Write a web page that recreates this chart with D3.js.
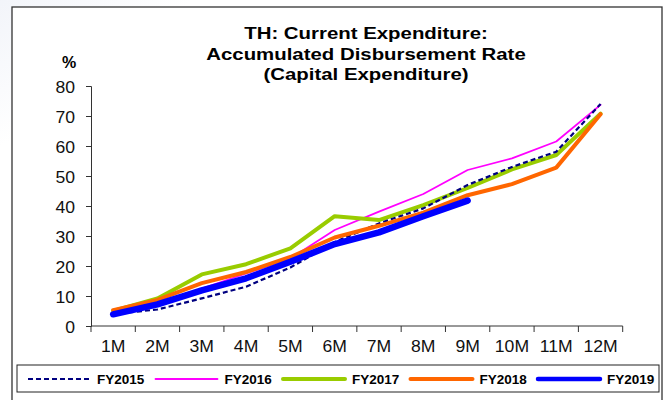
<!DOCTYPE html>
<html>
<head>
<meta charset="utf-8">
<script src="https://cdn.jsdelivr.net/npm/d3@7"></script>
<style>
  html, body { margin: 0; padding: 0; background: #fff; }
  svg { display: block; font-family: "Liberation Sans", Arial, sans-serif; }
</style>
</head>
<body>
<svg id="chart" width="667" height="400"></svg>
<script>
// Accumulated disbursement rate of capital expenditure (%), by month of fiscal year
const months = ["1M", "2M", "3M", "4M", "5M", "6M", "7M", "8M", "9M", "10M", "11M", "12M"];
const yTicks = [0, 10, 20, 30, 40, 50, 60, 70, 80];
const titleLines = ["TH: Current Expenditure:", "Accumulated Disbursement Rate", "(Capital Expenditure)"];

const fy2015 = [4.0, 5.5, 9.2, 13.1, 19.5, 28.0, 34.2, 39.2, 47.0, 53.0, 58.1, 74.0];
const fy2016 = [4.5, 7.5, 12.5, 17.5, 22.5, 32.0, 38.1, 44.0, 52.0, 55.9, 61.5, 73.7];
const fy2017 = [5.0, 9.2, 17.2, 20.6, 25.9, 36.6, 35.3, 40.3, 46.0, 52.2, 57.0, 70.8];
const fy2018 = [5.3, 8.7, 14.3, 18.0, 23.0, 29.5, 33.4, 37.8, 43.6, 47.3, 52.8, 70.6];
const fy2019 = [3.9, 7.2, 11.9, 15.9, 21.4, 27.3, 31.2, 36.6, 41.8];

const series = [
  { name: "FY2015", values: fy2015, color: "#000080", width: 2.2, dash: "5,3" },
  { name: "FY2016", values: fy2016, color: "#ff00ff", width: 1.8, dash: null },
  { name: "FY2017", values: fy2017, color: "#99cc00", width: 4, dash: null },
  { name: "FY2018", values: fy2018, color: "#ff6600", width: 4, dash: null },
  { name: "FY2019", values: fy2019, color: "#0000ff", width: 6.5, dash: null }
];
// stacking order of the lines (bottom to top)
const drawOrder = ["FY2016", "FY2017", "FY2015", "FY2018", "FY2019"];

const svg = d3.select("#chart");
const font = "'Liberation Sans', Arial, sans-serif";

// soft slide backdrop in the top-left corner
const defs = svg.append("defs");
const rg = defs.append("radialGradient").attr("id", "bgGlow")
  .attr("cx", 0).attr("cy", 0).attr("r", 1);
rg.append("stop").attr("offset", "0%").attr("stop-color", "#d6deee");
rg.append("stop").attr("offset", "60%").attr("stop-color", "#eef1f8");
rg.append("stop").attr("offset", "100%").attr("stop-color", "#ffffff");
svg.append("rect").attr("x", 0).attr("y", 0).attr("width", 667).attr("height", 400).attr("fill", "#fff");
svg.append("ellipse").attr("cx", 0).attr("cy", 0).attr("rx", 260).attr("ry", 200)
  .attr("fill", "url(#bgGlow)");

// chart frame
svg.append("rect")
  .attr("x", 12).attr("y", 7).attr("width", 650).attr("height", 420)
  .attr("fill", "#fff").attr("stroke", "#333").attr("stroke-width", 1.3);

// scales
const x = d3.scaleBand().domain(months).range([91, 622.7]).padding(0);
const y = d3.scaleLinear().domain([0, 80]).range([326, 86]);
const cx = d => x(d) + x.bandwidth() / 2;

// title
const title = svg.append("g");
titleLines.forEach((t, i) => {
  title.append("text")
    .attr("transform", `translate(366,${39 + i * 20.5}) scale(1.2,1)`)
    .attr("text-anchor", "middle")
    .attr("font-size", 17).attr("font-weight", "bold").attr("fill", "#000")
    .text(t);
});

// unit label
svg.append("text").attr("x", 69).attr("y", 68).attr("text-anchor", "middle")
  .attr("font-size", 16).attr("font-weight", "bold").text("%");

// y axis
const yAxis = svg.append("g").attr("transform", "translate(91,0)")
  .call(d3.axisLeft(y).tickValues(yTicks).tickSize(5).tickSizeOuter(5).tickPadding(0));
yAxis.select(".domain").attr("stroke", "#333");
yAxis.selectAll(".tick line").attr("stroke", "#333");
yAxis.selectAll(".tick text").remove();
yAxis.selectAll(".tick").append("text")
  .attr("transform", "translate(-16,6) scale(1.1,1)")
  .attr("text-anchor", "end").attr("fill", "#111")
  .attr("font-size", 16).attr("font-family", font)
  .text(d => d);

// x axis: tick marks sit on the band boundaries, labels at band centres
const xAxis = svg.append("g");
xAxis.append("line")
  .attr("x1", x.range()[0]).attr("x2", x.range()[1])
  .attr("y1", y(0)).attr("y2", y(0)).attr("stroke", "#333");
const bounds = months.map(m => x(m)).concat([x.range()[1]]);
xAxis.selectAll("line.tk").data(bounds).join("line").attr("class", "tk")
  .attr("x1", d => d).attr("x2", d => d)
  .attr("y1", y(0)).attr("y2", y(0) + 6).attr("stroke", "#333");
xAxis.selectAll("text").data(months).join("text")
  .attr("transform", d => `translate(${cx(d)},352) scale(1.1,1)`)
  .attr("text-anchor", "middle").attr("fill", "#111")
  .attr("font-size", 16)
  .text(d => d);

// lines
const line = d3.line().x((d, i) => cx(months[i])).y(d => y(d));
const byName = Object.fromEntries(series.map(s => [s.name, s]));
svg.append("g").selectAll("path").data(drawOrder.map(n => byName[n])).join("path")
  .attr("d", s => line(s.values))
  .attr("fill", "none")
  .attr("stroke", s => s.color)
  .attr("stroke-width", s => s.width)
  .attr("stroke-dasharray", s => s.dash)
  .attr("stroke-linejoin", "round")
  .attr("stroke-linecap", s => s.dash ? "butt" : "round");

// legend
svg.append("rect").attr("x", 17).attr("y", 365).attr("width", 642).attr("height", 27)
  .attr("fill", "#fff").attr("stroke", "#222").attr("stroke-width", 1);
const leg = svg.append("g").selectAll("g").data(series).join("g")
  .attr("transform", (s, i) => `translate(${28 + i * 127.5},379)`);
leg.append("line").attr("x1", 0).attr("x2", 62).attr("y1", 0).attr("y2", 0)
  .attr("stroke", s => s.color)
  .attr("stroke-width", s => Math.min(s.width, 4.5))
  .attr("stroke-dasharray", s => s.dash)
  .attr("stroke-linecap", s => s.dash ? "butt" : "round");
leg.append("text").attr("x", 69).attr("y", 5)
  .attr("font-size", 13.5).attr("font-weight", "bold").attr("fill", "#000")
  .text(s => s.name);
</script>
</body>
</html>
